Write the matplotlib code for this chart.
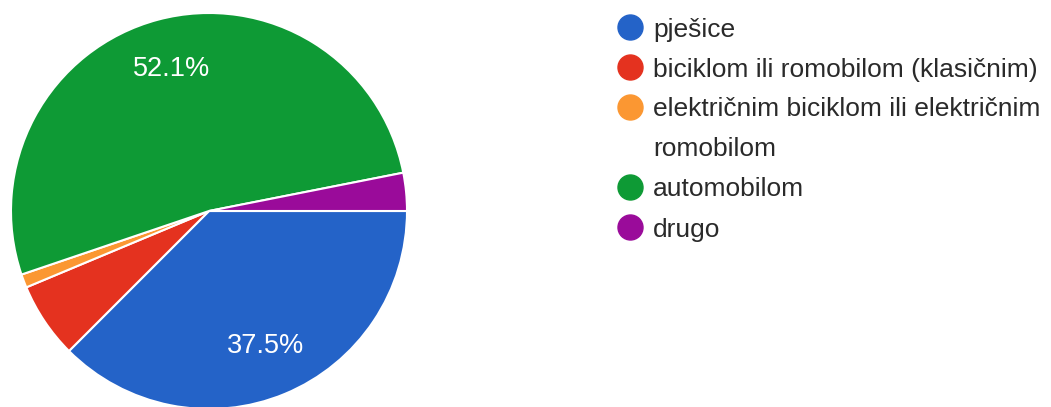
import matplotlib.pyplot as plt
from matplotlib.lines import Line2D

plt.rcParams['font.family'] = ['Liberation Sans', 'DejaVu Sans']

# ---------------- data ----------------
labels = ['pješice',
          'biciklom ili romobilom (klasičnim)',
          'električnim biciklom ili električnim\nromobilom',
          'automobilom',
          'drugo']
shares = [37.5, 6.2, 1.1, 52.1, 3.1]
colors = ['#2463c8', '#e4321f', '#fb9732', '#0e9a35', '#9a0b9a']

fig = plt.figure(figsize=(10.51, 4.07), dpi=100)
W, H = 1051, 407

# pie axes: centre ~(209, 211) px, radius ~199 px
cx, cy, r = 209, 211, 199
ax = fig.add_axes([(cx - r) / W, (H - cy - r) / H, 2 * r / W, 2 * r / H])

def pct(p):
    return '%.1f%%' % p if p > 10 else ''

wedges, texts, autotexts = ax.pie(
    shares, colors=colors, startangle=0, counterclock=False,
    autopct=pct, pctdistance=0.74, radius=1,
    wedgeprops=dict(edgecolor='white', linewidth=1.5),
    textprops=dict(color='white', fontsize=19.5))
ax.set_xlim(-1.005, 1.005)
ax.set_ylim(-1.005, 1.005)
ax.set_aspect('equal')
ax.axis('off')

# ---------------- legend (drawn by hand, first line aligned with dot) ----------------
x_dot, x_txt = 630 / W, 653 / W
y = 27
line_h = 40
for lab, col in zip(labels, colors):
    fig.add_artist(Line2D([x_dot], [1 - y / H], marker='o', markersize=18,
                          color=col, transform=fig.transFigure, linestyle=''))
    for part in lab.split('\n'):
        fig.text(x_txt, 1 - y / H, part, color='#2a2a2a', fontsize=19,
                 va='center_baseline', ha='left')
        y += line_h

fig.savefig('out.png', dpi=100, facecolor='white')
